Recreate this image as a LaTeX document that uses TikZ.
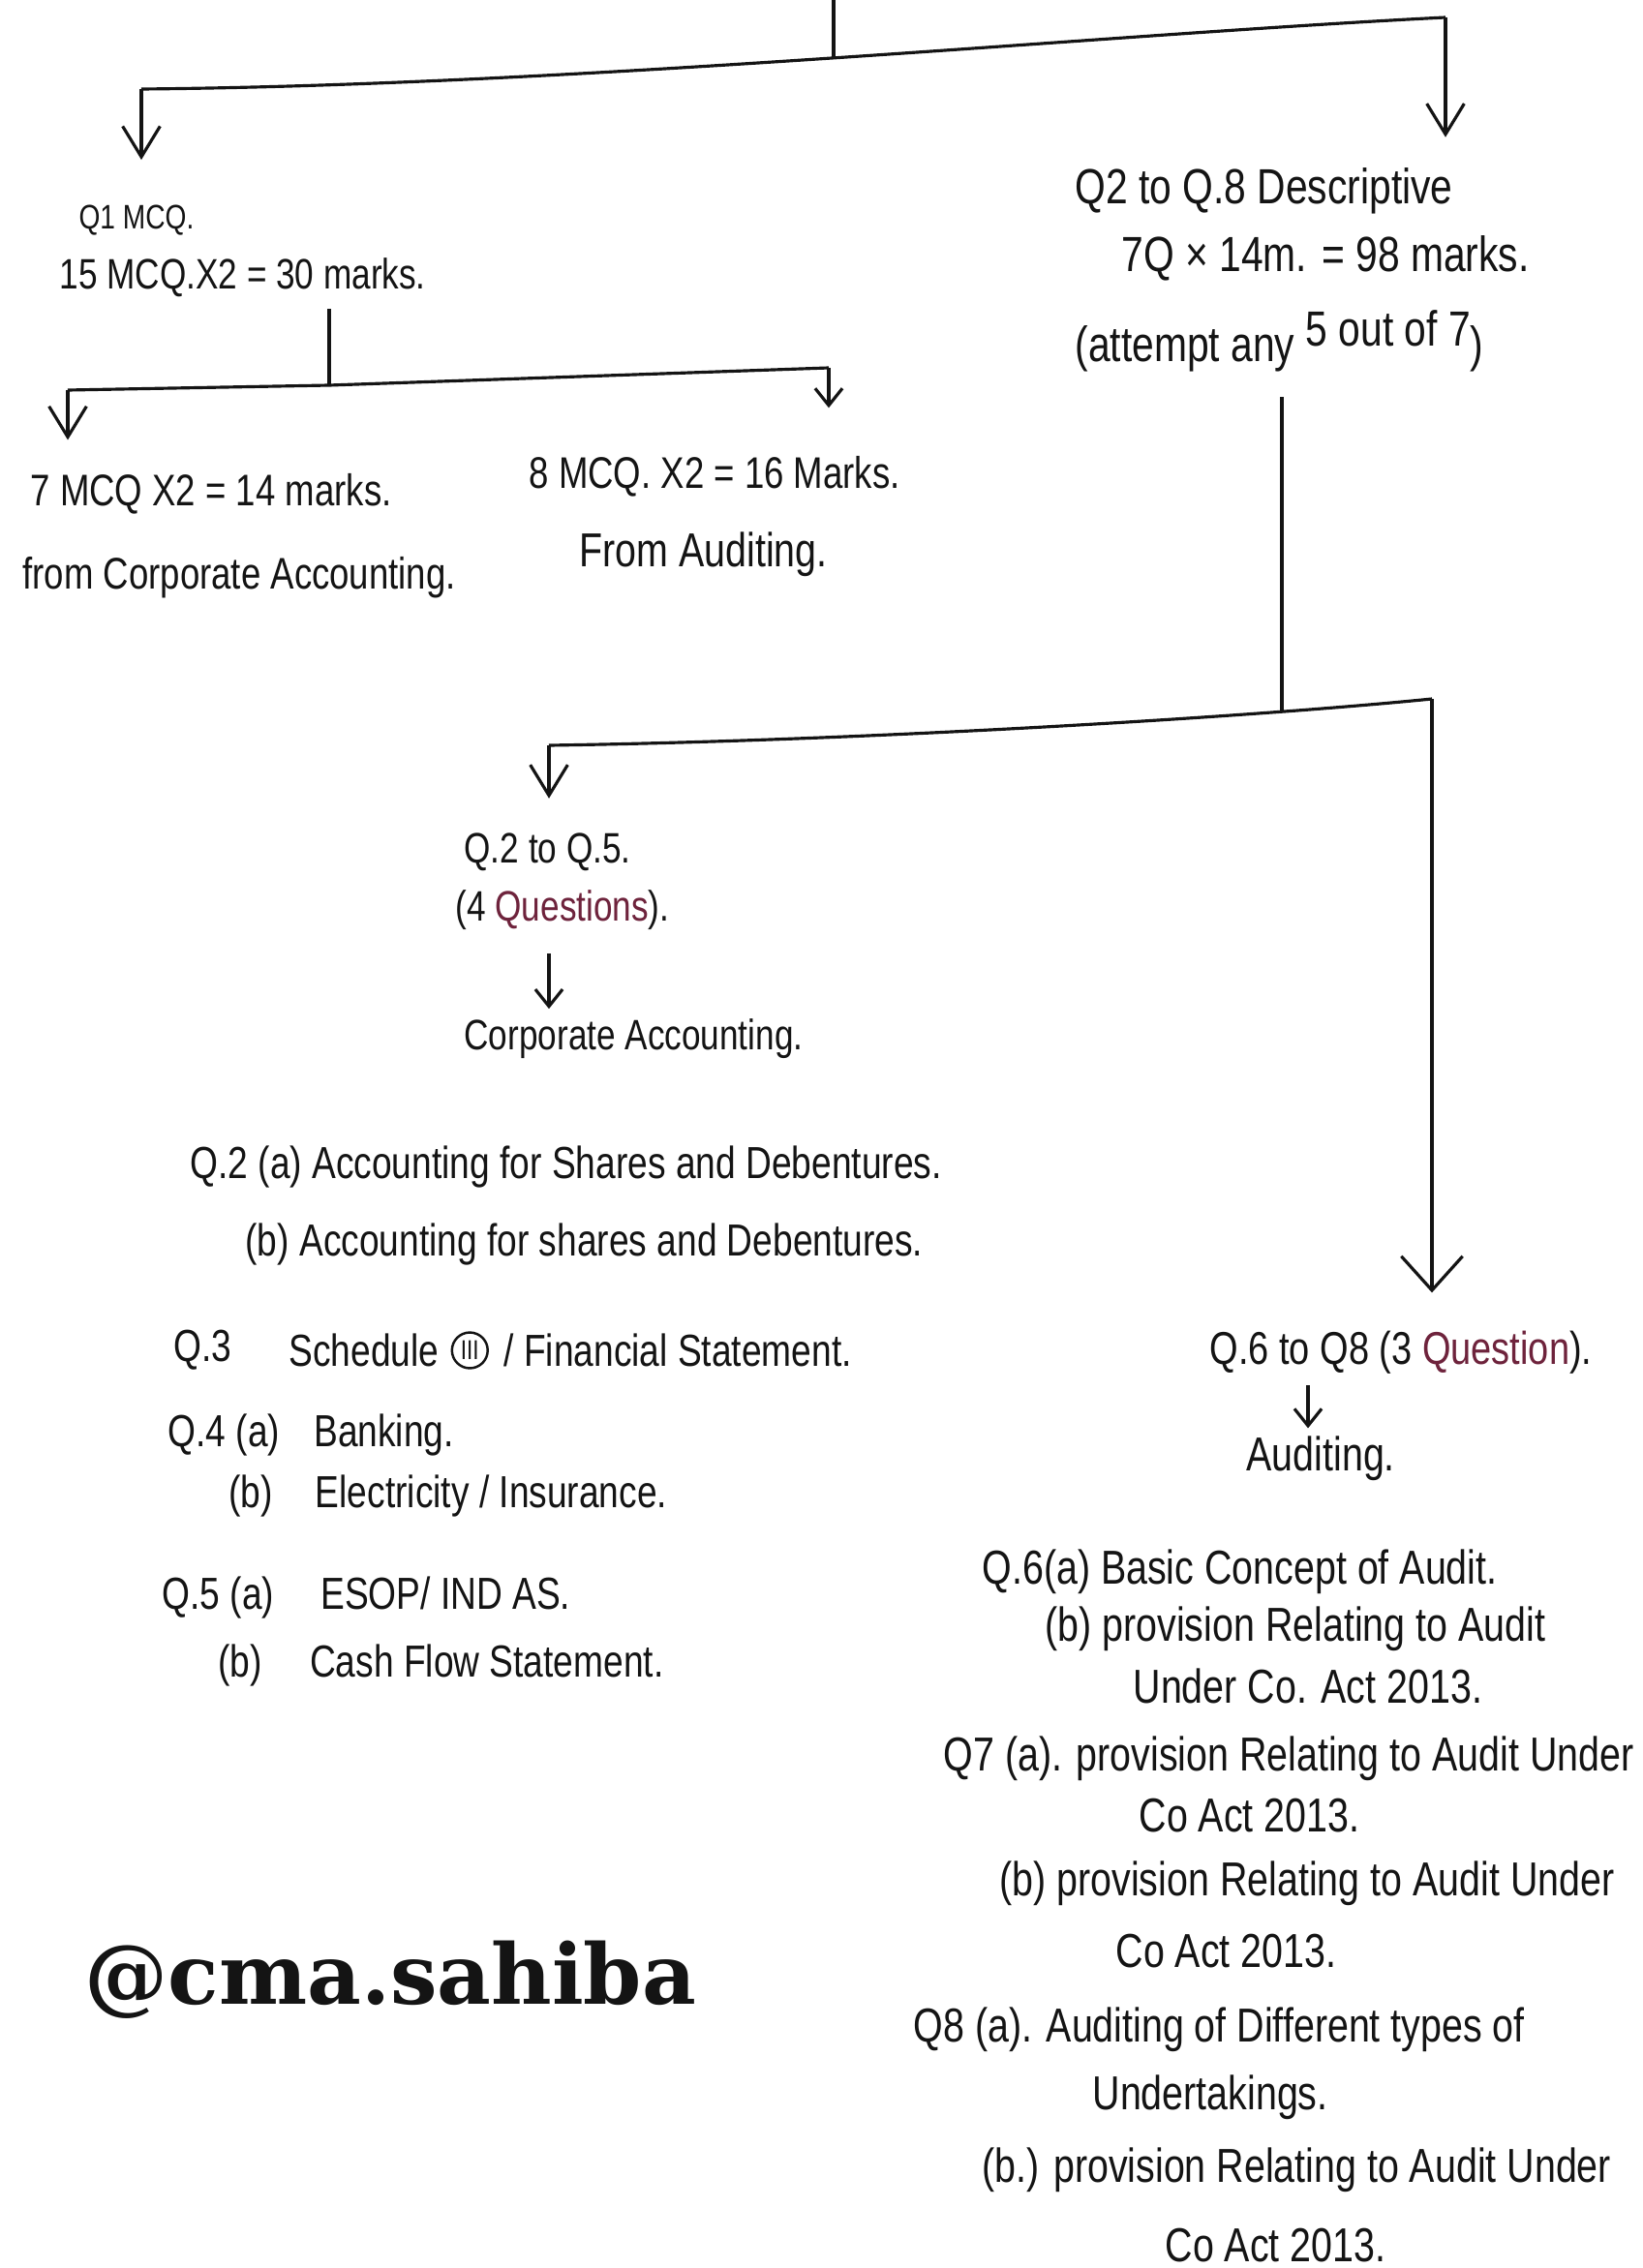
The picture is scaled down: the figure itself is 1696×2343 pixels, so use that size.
\documentclass[tikz,border=0pt]{standalone}
\usepackage{fontspec}
\setmainfont{Liberation Sans}[FakeStretch=0.8]
\newfontfamily\stampfont{DejaVu Serif}
\usetikzlibrary{arrows.meta,positioning}
\definecolor{ink}{RGB}{20,20,20}
\definecolor{inkred}{RGB}{110,35,60}
\begin{document}
\begin{tikzpicture}[x=0.01cm, y=-0.01cm, line width=0.9pt, color=ink,
  hand/.style={anchor=west, inner sep=0pt, font=\fontsize{#1}{#1}\selectfont},
  hand/.default=13,
  drop/.style={-{Straight Barb[length=9pt,width=11pt]}},
  smalldrop/.style={-{Straight Barb[length=5pt,width=8pt]}},
  bigdrop/.style={-{Straight Barb[length=10pt,width=18pt]}}]
\fill[white] (0,0) rectangle (1696,2343);
\useasboundingbox (0,0) rectangle (1696,2343);
\coordinate (top) at (861,0);
\coordinate (tj) at (861,60);
\coordinate (tl) at (146,92);
\coordinate (tr) at (1493,18);
\draw (top) -- (tj);
\draw (tl) .. controls (600,88) and (1150,35) .. (tr);
\node[hand=10] (q1) at (80,228) {Q1 MCQ.};
\node[hand=12.5] (q1m) at (60,287) {15 MCQ.X2 = 30 marks.};
\node[hand=14.5] (dsc) at (1109,197) {Q2 to Q.8 Descriptive};
\node[hand=14.5] (dscm) at (1157,267) {7Q × 14m. = 98 marks.};
\node[hand=14.5] (dsca) at (1109,352) {(attempt any \raisebox{4.5pt}{5 out of 7})};
\draw[drop, shorten >=13pt] (tl) -- (tl |- q1.north);
\draw[drop, shorten >=8.5pt] (tr) -- (tr |- dsc.north);
\coordinate (mj) at (340,398);
\coordinate (ml) at (70,403);
\coordinate (mr) at (856,380);
\draw[shorten <=3pt] (q1m.south -| mj) -- (mj);
\draw (ml) -- (mj) -- (mr);
\node[hand=13] (m7) at (30,510) {7 MCQ X2 = 14 marks.};
\node[hand=13] (m7f) at (22,597) {from Corporate Accounting.};
\node[hand=13] (m8) at (545,492) {8 MCQ. X2 = 16 Marks.};
\node[hand=14] (m8f) at (597,573) {From Auditing.};
\draw[drop, shorten >=9.4pt] (ml) -- (ml |- m7.north);
\draw[smalldrop, shorten >=13.7pt] (mr) -- (mr |- m8.north);
\coordinate (dj) at (1324,735);
\coordinate (dl) at (567,770);
\coordinate (dr) at (1479,722);
\draw[shorten <=7pt] (dsca.south -| dj) -- (dj);
\draw (dl) .. controls (900,765) and (1300,740) .. (dr);
\node[hand=12.5] (ca1) at (478,880) {Q.2 to Q.5.};
\node[hand=12.5] (ca2) at (469,940) {(4 \textcolor{inkred}{Questions}).};
\node[hand=12.5] (ca3) at (478,1073) {Corporate Accounting.};
\draw[drop, shorten >=9.7pt] (dl) -- (dl |- ca1.north);
\draw[smalldrop, shorten <=6.5pt, shorten >=2.5pt] (ca2.south -| dl) -- (ca3.north -| dl);
\node[hand=13.5] (q6) at (1248,1397) {Q.6 to Q8 (3 \textcolor{inkred}{Question}).};
\node[hand=14] (aud) at (1286,1507) {Auditing.};
\coordinate (q6x) at (1351,1430);
\draw[bigdrop, shorten >=10.8pt] (dr) -- (dr |- q6.north);
\draw[smalldrop, shorten <=3pt, shorten >=2pt] (q6.south -| q6x) -- (aud.north -| q6x);
\node[hand=13.2] (q2a) at (195,1205) {Q.2 (a) Accounting for Shares and Debentures.};
\node[hand=13.2] (q2b) at (252,1285) {(b) Accounting for shares and Debentures.};
\node[hand=13.2] (q3) at (178,1395) {Q.3};
\node[hand=13.2] (q3t) at (297,1395) {Schedule};
\node[circle, draw, inner sep=1pt, line width=0.7pt, font=\fontsize{8}{8}\selectfont, right=3pt of q3t] (q3n) {III};
\node[hand=13.2, right=4pt of q3n] (q3s) {/ Financial Statement.};
\node[hand=13.2] (q4a) at (172,1482) {Q.4 (a)\hspace{10pt}Banking.};
\node[hand=13.2] (q4b) at (235,1545) {(b)\hspace{12.5pt}Electricity / Insurance.};
\node[hand=13.2] (q5a) at (166,1650) {Q.5 (a)\hspace{13.7pt}ESOP/ IND AS.};
\node[hand=13.2] (q5b) at (224,1720) {(b)\hspace{14pt}Cash Flow Statement.};
\node[hand=14] (q6a) at (1013,1624) {Q.6(a) Basic Concept of Audit.};
\node[hand=14] (q6b) at (1078,1683) {(b) provision Relating to Audit};
\node[hand=14] (q6c) at (1169,1742) {Under Co. Act 2013.};
\node[hand=14] (q7a) at (973,1817) {Q7 (a). provision Relating to Audit Under};
\node[hand=14] (q7c) at (1175,1876) {Co Act 2013.};
\node[hand=14] (q7b) at (1031,1946) {(b) provision Relating to Audit Under};
\node[hand=14] (q7d) at (1151,2016) {Co Act 2013.};
\node[hand=14] (q8a) at (942,2097) {Q8 (a). Auditing of Different types of};
\node[hand=14] (q8c) at (1127,2167) {Undertakings.};
\node[hand=14] (q8b) at (1013,2242) {(b.) provision Relating to Audit Under};
\node[hand=14] (q8d) at (1202,2320) {Co Act 2013.};
\node[anchor=base west, inner sep=0pt, font=\stampfont\bfseries\fontsize{24.5}{24.5}\selectfont] (stamp) at (86,2070) {@cma.sahiba};
\end{tikzpicture}
\end{document}
